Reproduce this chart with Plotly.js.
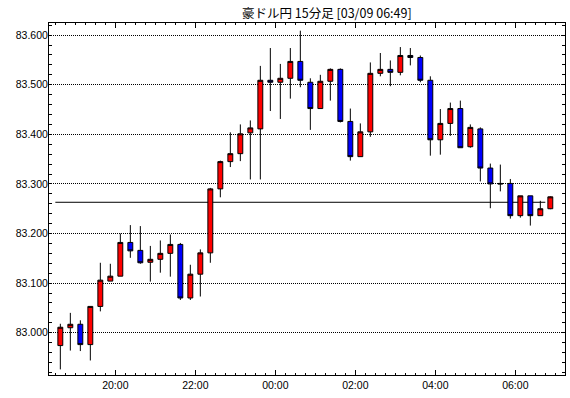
<!DOCTYPE html>
<html>
<head>
<meta charset="utf-8">
<script src="https://cdn.plot.ly/plotly-3.0.1.min.js"></script>
<style>html,body{margin:0;padding:0;background:#fff;}#chart{width:570px;height:398px;}</style>
</head>
<body>
<div id="chart"></div>
<script>
// 15-minute bar start times (03/08 18:30 -> 03/09 06:45)
const times = [
  "2021-03-08 18:30","2021-03-08 18:45","2021-03-08 19:00","2021-03-08 19:15","2021-03-08 19:30","2021-03-08 19:45",
  "2021-03-08 20:00","2021-03-08 20:15","2021-03-08 20:30","2021-03-08 20:45","2021-03-08 21:00","2021-03-08 21:15",
  "2021-03-08 21:30","2021-03-08 21:45","2021-03-08 22:00","2021-03-08 22:15","2021-03-08 22:30","2021-03-08 22:45",
  "2021-03-08 23:00","2021-03-08 23:15","2021-03-08 23:30","2021-03-08 23:45",
  "2021-03-09 00:00","2021-03-09 00:15","2021-03-09 00:30","2021-03-09 00:45","2021-03-09 01:00","2021-03-09 01:15",
  "2021-03-09 01:30","2021-03-09 01:45","2021-03-09 02:00","2021-03-09 02:15","2021-03-09 02:30","2021-03-09 02:45",
  "2021-03-09 03:00","2021-03-09 03:15","2021-03-09 03:30","2021-03-09 03:45","2021-03-09 04:00","2021-03-09 04:15",
  "2021-03-09 04:30","2021-03-09 04:45","2021-03-09 05:00","2021-03-09 05:15","2021-03-09 05:30","2021-03-09 05:45",
  "2021-03-09 06:00","2021-03-09 06:15","2021-03-09 06:30","2021-03-09 06:45"
];
const opens = [
  82.974,83.010,83.017,82.976,83.053,83.104,83.114,83.182,83.166,83.142,
  83.148,83.160,83.178,83.070,83.118,83.161,83.290,83.345,83.361,83.403,
  83.411,83.509,83.505,83.513,83.547,83.505,83.452,83.507,83.531,83.426,
  83.355,83.405,83.523,83.531,83.525,83.559,83.555,83.509,83.389,83.422,
  83.452,83.375,83.411,83.332,83.301,83.301,83.236,83.276,83.236,83.250
];
const highs = [
  83.018,83.040,83.025,83.053,83.141,83.139,83.200,83.217,83.215,83.175,
  83.186,83.198,83.181,83.137,83.168,83.292,83.347,83.404,83.420,83.428,
  83.538,83.574,83.542,83.574,83.609,83.513,83.520,83.533,83.533,83.452,
  83.422,83.545,83.564,83.549,83.576,83.574,83.559,83.517,83.451,83.464,
  83.468,83.420,83.414,83.341,83.339,83.310,83.276,83.276,83.266,83.275
];
const lows = [
  82.926,82.964,82.963,82.944,83.043,83.104,83.114,83.151,83.139,83.103,
  83.121,83.113,83.066,83.066,83.073,83.141,83.273,83.334,83.346,83.309,
  83.309,83.447,83.431,83.472,83.495,83.409,83.452,83.468,83.424,83.347,
  83.355,83.395,83.517,83.497,83.519,83.539,83.505,83.357,83.359,83.397,
  83.373,83.373,83.305,83.251,83.285,83.230,83.232,83.216,83.236,83.249
];
const closes = [
  83.011,83.017,82.976,83.053,83.106,83.114,83.182,83.165,83.141,83.148,
  83.160,83.178,83.070,83.118,83.161,83.290,83.345,83.361,83.401,83.413,
  83.509,83.505,83.513,83.547,83.509,83.452,83.507,83.531,83.426,83.355,
  83.405,83.523,83.531,83.525,83.559,83.555,83.509,83.389,83.422,83.452,
  83.373,83.414,83.332,83.300,83.300,83.236,83.276,83.236,83.250,83.274
];
const refLevel = 83.263;
const titleText = "豪ドル円 15分足 [03/09 06:49]";

const trace = {
  type: 'candlestick',
  x: times, open: opens, high: highs, low: lows, close: closes,
  xperiod: 15 * 60 * 1000,
  xperiodalignment: 'middle',
  increasing: {line: {color: '#000000', width: 1}, fillcolor: '#ff0000'},
  decreasing: {line: {color: '#000000', width: 1}, fillcolor: '#0000ff'},
  whiskerwidth: 0,
  hoverinfo: 'skip',
  showlegend: false
};

const tickFont = {family: 'Liberation Sans, Arial, sans-serif', size: 10.5, color: '#000000'};

const layout = {
  width: 570, height: 398,
  margin: {l: 49, r: 5, t: 23, b: 23, pad: 0},
  paper_bgcolor: '#ffffff', plot_bgcolor: '#ffffff',
  showlegend: false,
  title: {
    text: titleText,
    font: {family: 'Noto Sans CJK JP, sans-serif', size: 12.5, color: '#000000'},
    x: 0.5385, xanchor: 'center', xref: 'paper',
    y: 1 - 14 / 398, yanchor: 'middle', yref: 'container'
  },
  xaxis: {
    type: 'date',
    range: ["2021-03-08 18:20:30", "2021-03-09 07:14:30"],
    rangeslider: {visible: false},
    showgrid: false, zeroline: false,
    showline: true, linecolor: '#000000', linewidth: 1, mirror: 'allticks',
    ticks: 'inside', ticklen: 5, tickwidth: 1, tickcolor: '#000000',
    tick0: "2021-03-08 20:00", dtick: 2 * 3600 * 1000,
    tickformat: '%H:%M',
    tickfont: tickFont,
    minor: {dtick: 15 * 60 * 1000, ticks: 'inside', ticklen: 2, tickwidth: 1, tickcolor: '#000000', showgrid: false},
    fixedrange: true
  },
  yaxis: {
    range: [82.9147, 83.6245],
    showgrid: true, gridcolor: '#000000', gridwidth: 1, griddash: '1px,1px',
    zeroline: false,
    showline: true, linecolor: '#000000', linewidth: 1, mirror: 'allticks',
    ticks: 'inside', ticklen: 3, tickwidth: 1, tickcolor: '#000000',
    tick0: 83.0, dtick: 0.1, tickformat: '.3f',
    tickfont: tickFont,
    ticklabelstandoff: -2,
    minor: {dtick: 0.02, ticks: 'inside', ticklen: 3, tickwidth: 1, tickcolor: '#000000', showgrid: false},
    fixedrange: true
  },
  shapes: [{
    type: 'line', xref: 'x', yref: 'y',
    x0: times[0], x1: times[times.length - 1],
    y0: refLevel, y1: refLevel,
    line: {color: '#000000', width: 1},
    layer: 'below'
  }]
};

Plotly.newPlot('chart', [trace], layout, {staticPlot: true, displayModeBar: false});
</script>
</body>
</html>
